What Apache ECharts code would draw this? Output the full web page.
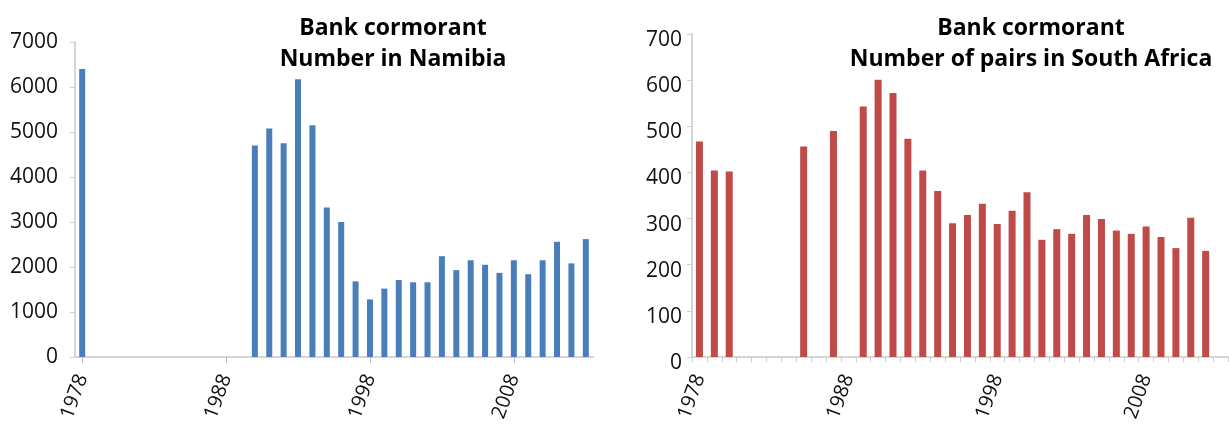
<!DOCTYPE html>
<html>
<head>
<meta charset="utf-8">
<script src="https://cdn.jsdelivr.net/npm/echarts@6/dist/echarts.min.js"></script>
<style>
  html, body { margin: 0; padding: 0; background: #fff; }
  #chart { width: 1229px; height: 430px; }
</style>
</head>
<body>
<div id="chart"></div>
<script>
// categories shared by both panels (one per year)
const years = ['1978', '1979', '1980', '1981', '1982', '1983', '1984', '1985', '1986', '1987',
  '1988', '1989', '1990', '1991', '1992', '1993', '1994', '1995', '1996', '1997',
  '1998', '1999', '2000', '2001', '2002', '2003', '2004', '2005', '2006', '2007',
  '2008', '2009', '2010', '2011', '2012', '2013']
const labelYears = ['1978', '1988', '1998', '2008']

// Namibia: number of birds
const namibiaYears = ['1978', '1990', '1991', '1992', '1993', '1994', '1995', '1996', '1997',
  '1998', '1999', '2000', '2001', '2002', '2003', '2004', '2005', '2006', '2007',
  '2008', '2009', '2010', '2011', '2012', '2013']
const namibiaCounts = [6400, 4700, 5080, 4750, 6170, 5150, 3320, 3000, 1680,
  1280, 1520, 1710, 1660, 1660, 2240, 1930, 2150, 2050, 1870,
  2150, 1840, 2150, 2560, 2080, 2620]

// South Africa: number of pairs
const saYears = ['1978', '1979', '1980', '1985', '1987', '1989', '1990', '1991', '1992',
  '1993', '1994', '1995', '1996', '1997', '1998', '1999', '2000', '2001', '2002',
  '2003', '2004', '2005', '2006', '2007', '2008', '2009', '2010', '2011', '2012']
const saPairs = [467, 404, 402, 456, 490, 543, 601, 572, 473,
  404, 360, 290, 308, 332, 288, 317, 357, 254, 277,
  267, 308, 299, 274, 267, 283, 260, 236, 302, 230]

const fontFamily = '"Open Sans", "Noto Sans", sans-serif'

function seriesData(ys, vals) {
  return years.map(y => {
    const i = ys.indexOf(y)
    return i >= 0 ? vals[i] : null
  })
}

const showLabel = (idx, val) => labelYears.indexOf(val) >= 0

function xAxisFor(gridIndex, tickEvery) {
  return {
    type: 'category',
    gridIndex: gridIndex,
    data: years,
    boundaryGap: true,
    axisLine: { lineStyle: { color: '#d6d6d6', width: 2 } },
    axisTick: tickEvery
      ? { show: true, interval: 0, length: 5, lineStyle: { color: '#cfcfcf' } }
      : { show: true, interval: showLabel, alignWithLabel: true, length: 6, lineStyle: { color: '#bdbdbd' } },
    axisLabel: {
      interval: showLabel,
      rotate: 70,
      margin: 18,
      color: '#111',
      fontSize: 20,
      fontFamily: fontFamily
    }
  }
}

function yAxisFor(gridIndex, max, interval, margin, shift) {
  return {
    type: 'value',
    gridIndex: gridIndex,
    min: 0,
    max: max,
    interval: interval,
    splitLine: { show: false },
    axisLine: { show: true, lineStyle: { color: '#d6d6d6', width: 2 } },
    axisTick: { show: true, length: 5, lineStyle: { color: '#cfcfcf' } },
    axisLabel: {
      margin: margin,
      formatter: v => '{n|' + v + '}',
      rich: {
        n: {
          color: '#111',
          fontSize: 21,
          fontFamily: fontFamily,
          padding: [shift, 0, 0, 0]
        }
      }
    }
  }
}

const chart = echarts.init(document.getElementById('chart'))

const titleStyle = { fontSize: 23, fontWeight: 'bold', color: '#000', fontFamily: fontFamily, lineHeight: 31 }

const option = {
  animation: false,
  title: [
    {
      text: 'Bank cormorant\nNumber in Namibia',
      left: 388,
      top: 8,
      textAlign: 'center',
      textStyle: titleStyle
    },
    {
      text: 'Bank cormorant\nNumber of pairs in South Africa',
      left: 1026,
      top: 8,
      textAlign: 'center',
      textStyle: titleStyle
    }
  ],
  grid: [
    { left: 75, top: 42, width: 518, height: 315, containLabel: false },
    { left: 692, top: 34, width: 536, height: 323, containLabel: false }
  ],
  xAxis: [xAxisFor(0, false), xAxisFor(1, true)],
  yAxis: [
    yAxisFor(0, 7000, 1000, 17, 0),
    yAxisFor(1, 700, 100, 10, 12)
  ],
  series: [
    {
      name: 'Number in Namibia',
      type: 'bar',
      xAxisIndex: 0,
      yAxisIndex: 0,
      barWidth: 6,
      data: seriesData(namibiaYears, namibiaCounts),
      itemStyle: { color: '#4a7ebb' }
    },
    {
      name: 'Number of pairs in South Africa',
      type: 'bar',
      xAxisIndex: 1,
      yAxisIndex: 1,
      barWidth: 7,
      data: seriesData(saYears, saPairs),
      itemStyle: { color: '#be4b48' }
    }
  ]
}

chart.setOption(option)
window.addEventListener('resize', chart.resize)
</script>
</body>
</html>
